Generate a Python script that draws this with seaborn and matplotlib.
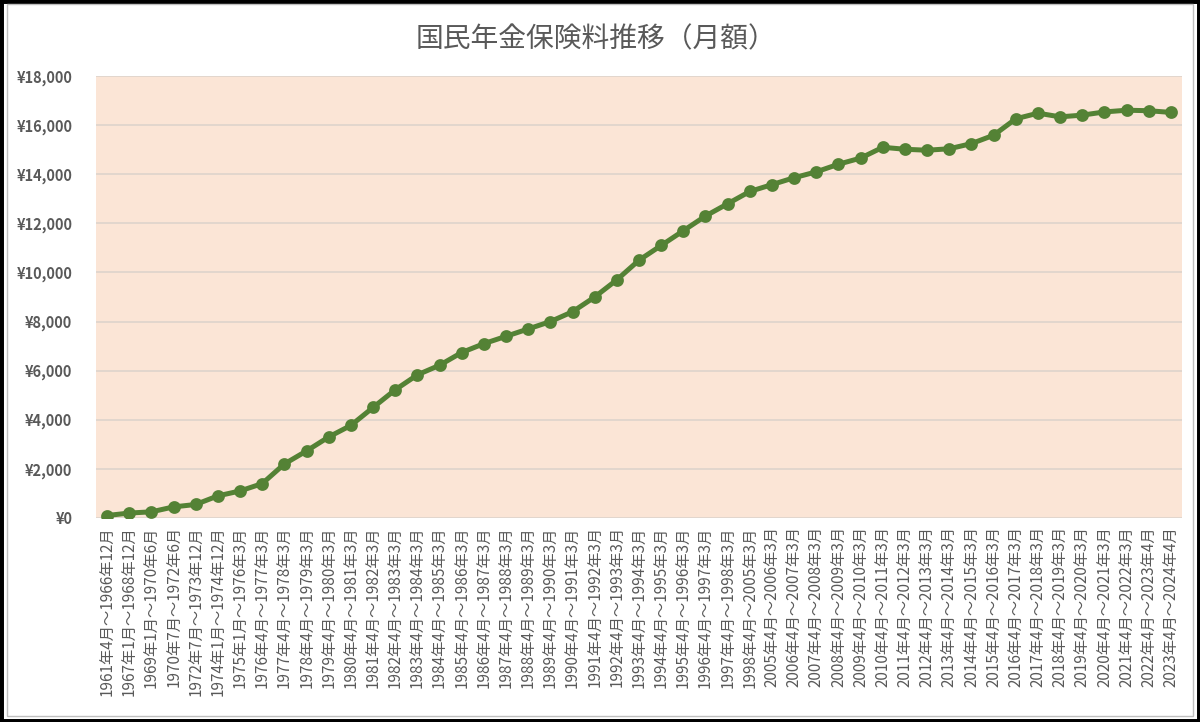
"""
国民年金保険料推移（月額）の折れ線グラフ
"""

import matplotlib
matplotlib.use("Agg")
import matplotlib.pyplot as plt
import matplotlib.ticker as mticker
from matplotlib.patches import Rectangle
import seaborn as sns
import pandas as pd

# 期間ラベル
periods = [
    "1961年4月～1966年12月", "1967年1月～1968年12月", "1969年1月～1970年6月",
    "1970年7月～1972年6月", "1972年7月～1973年12月", "1974年1月～1974年12月",
    "1975年1月～1976年3月", "1976年4月～1977年3月", "1977年4月～1978年3月",
    "1978年4月～1979年3月", "1979年4月～1980年3月", "1980年4月～1981年3月",
    "1981年4月～1982年3月", "1982年4月～1983年3月", "1983年4月～1984年3月",
    "1984年4月～1985年3月", "1985年4月～1986年3月", "1986年4月～1987年3月",
    "1987年4月～1988年3月", "1988年4月～1989年3月", "1989年4月～1990年3月",
    "1990年4月～1991年3月", "1991年4月～1992年3月", "1992年4月～1993年3月",
    "1993年4月～1994年3月", "1994年4月～1995年3月", "1995年4月～1996年3月",
    "1996年4月～1997年3月", "1997年4月～1998年3月", "1998年4月～2005年3月",
    "2005年4月～2006年3月", "2006年4月～2007年3月", "2007年4月～2008年3月",
    "2008年4月～2009年3月", "2009年4月～2010年3月", "2010年4月～2011年3月",
    "2011年4月～2012年3月", "2012年4月～2013年3月", "2013年4月～2014年3月",
    "2014年4月～2015年3月", "2015年4月～2016年3月", "2016年4月～2017年3月",
    "2017年4月～2018年3月", "2018年4月～2019年3月", "2019年4月～2020年3月",
    "2020年4月～2021年3月", "2021年4月～2022年3月", "2022年4月～2023年4月",
    "2023年4月～2024年4月",
]

# 月額保険料（円）
premiums = [
    100, 200, 250, 450, 550, 900, 1100, 1400, 2200, 2730,
    3300, 3770, 4500, 5220, 5830, 6220, 6740, 7100, 7400, 7700,
    8000, 8400, 9000, 9700, 10500, 11100, 11700, 12300, 12800, 13300,
    13580, 13860, 14100, 14410, 14660, 15100, 15020, 14980, 15040, 15250,
    15590, 16260, 16490, 16340, 16410, 16540, 16610, 16590, 16520,
]

y_ticks = list(range(0, 18001, 2000))

GREEN = "#548235"
TEXT = "#595959"

sns.set_theme(style="white")
plt.rcParams["font.family"] = ["Noto Sans CJK JP", "DejaVu Sans"]

df = pd.DataFrame({"期間": periods, "保険料": premiums})

fig = plt.figure(figsize=(12, 7.22), dpi=100)
ax = fig.add_axes([0.08, 0.2826, 0.905, 0.612])
ax.set_facecolor("#FBE5D6")

sns.pointplot(data=df, x="期間", y="保険料", color=GREEN, markers="o",
              markersize=6.5, linewidth=3.6, ax=ax, zorder=3)

ax.set_xlim(-0.5, len(periods) - 0.5)
ax.set_ylim(0, 18000)
ax.set_yticks(y_ticks)
ax.yaxis.set_major_formatter(mticker.FuncFormatter(lambda v, _: f"¥{int(v):,}"))
ax.grid(axis="y", color="#DDD3CC", linewidth=1.2)
ax.grid(axis="x", visible=False)
ax.set_axisbelow(True)
for s in ax.spines.values():
    s.set_visible(False)

ax.tick_params(axis="x", labelrotation=90, labelsize=11, colors=TEXT, length=0, pad=6)
ax.tick_params(axis="y", labelsize=10.5, colors=TEXT, length=0, pad=17)
for lab in ax.get_yticklabels():
    lab.set_fontweight("bold")
ax.set_xlabel("")
ax.set_ylabel("")

fig.text(0.497, 0.945, "国民年金保険料推移（月額）", ha="center", va="center",
         fontsize=20, color=TEXT)

# 外枠
fig.patches.append(Rectangle((0.0, 0.0), 1, 1, transform=fig.transFigure,
                             fill=False, edgecolor="black", linewidth=5))
fig.patches.append(Rectangle((0.006, 0.008), 0.988, 0.986, transform=fig.transFigure,
                             fill=False, edgecolor="#BFBFBF", linewidth=1))

fig.savefig("out.png", dpi=100, facecolor="white")
